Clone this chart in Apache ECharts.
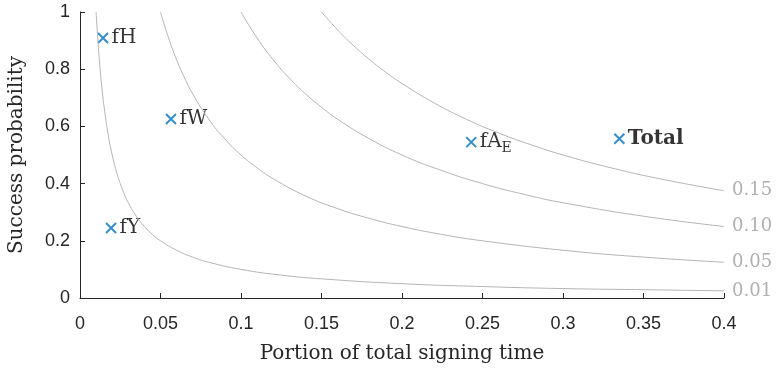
<!DOCTYPE html>
<html>
<head>
<meta charset="utf-8">
<style>
  html, body { margin: 0; padding: 0; background: #fff; }
  #chart { width: 777px; height: 368px; }
</style>
<script src="https://cdn.jsdelivr.net/npm/echarts@6/dist/echarts.min.js"></script>
</head>
<body>
<div id="chart"></div>
<script>
const xTicks = [0, 0.05, 0.1, 0.15, 0.2, 0.25, 0.3, 0.35, 0.4];
const yTicks = [0, 0.2, 0.4, 0.6, 0.8, 1];

// iso-lines
const levelNames = ["0.01", "0.05", "0.10", "0.15"];
const curveX = [
  [0.01, 0.011, 0.0125, 0.014, 0.015, 0.0175, 0.02, 0.0225, 0.025, 0.0275, 0.03, 0.035, 0.04, 0.045, 0.05, 0.06, 0.07, 0.08, 0.1, 0.125, 0.15, 0.2, 0.25, 0.3, 0.35, 0.4],
  [0.05, 0.055, 0.06, 0.065, 0.07, 0.08, 0.09, 0.1, 0.11, 0.12, 0.14, 0.16, 0.18, 0.2, 0.225, 0.25, 0.3, 0.35, 0.4],
  [0.1, 0.11, 0.12, 0.13, 0.14, 0.15, 0.16, 0.18, 0.2, 0.22, 0.25, 0.28, 0.3, 0.35, 0.4],
  [0.15, 0.16, 0.17, 0.18, 0.19, 0.2, 0.22, 0.24, 0.26, 0.28, 0.3, 0.33, 0.36, 0.4],
];
const curveY = [
  [1, 0.909, 0.8, 0.714, 0.667, 0.571, 0.5, 0.444, 0.4, 0.364, 0.333, 0.286, 0.25, 0.222, 0.2, 0.167, 0.143, 0.125, 0.1, 0.08, 0.067, 0.05, 0.04, 0.033, 0.029, 0.025],
  [1, 0.909, 0.833, 0.769, 0.714, 0.625, 0.556, 0.5, 0.455, 0.417, 0.357, 0.3125, 0.278, 0.25, 0.222, 0.2, 0.167, 0.143, 0.125],
  [1, 0.909, 0.833, 0.769, 0.714, 0.667, 0.625, 0.556, 0.5, 0.455, 0.4, 0.357, 0.333, 0.286, 0.25],
  [1, 0.9375, 0.882, 0.833, 0.789, 0.75, 0.682, 0.625, 0.577, 0.536, 0.5, 0.455, 0.417, 0.375],
];

const pointNames = ["fH", "fW", "fY", "fA_E", "Total"];
const pointX = [0.0143, 0.0565, 0.0193, 0.243, 0.335];
const pointY = [0.909, 0.626, 0.245, 0.545, 0.557];

const SERIF = "'DejaVu Serif', 'Liberation Serif', serif";
const SANS = "'Liberation Sans', Arial, sans-serif";
const CURVE_COLOR = "#b4b4b4";

const chart = echarts.init(document.getElementById("chart"));

const curveSeries = levelNames.map((name, i) => ({
  type: "line",
  name: name,
  data: curveX[i].map((x, j) => [x, curveY[i][j]]),
  showSymbol: false,
  smooth: true,
  silent: true,
  lineStyle: { color: CURVE_COLOR, width: 1 },
  endLabel: {
    show: true,
    formatter: name,
    color: "#b0b0b0",
    fontFamily: SERIF,
    fontSize: 18,
    distance: 8,
  },
}));

const labelText = (name) => {
  if (name === "fA_E") return "fA{sub|E}";
  if (name === "Total") return "{bold|Total}";
  return name;
};

const scatterSeries = {
  type: "scatter",
  symbol: "path://M0,0 L10,10 M10,0 L0,10",
  symbolSize: 10,
  itemStyle: { color: "none", borderColor: "#0072BD", borderWidth: 2 },
  data: pointNames.map((n, i) => ({ value: [pointX[i], pointY[i]], name: n })),
  label: {
    show: true,
    position: "right",
    distance: 1,
    formatter: (p) => labelText(p.name),
    color: "#000",
    fontFamily: SERIF,
    fontSize: 20,
    rich: {
      sub: { fontFamily: SERIF, fontSize: 14, color: "#000", verticalAlign: "bottom", padding: [12, 0, 0, 0] },
      bold: { fontFamily: SERIF, fontSize: 20, fontWeight: "bold", color: "#000" },
    },
  },
};

const option = {
  animation: false,
  grid: { left: 80, right: 53, top: 12, bottom: 70, outerBoundsMode: "none", containLabel: false },
  xAxis: {
    type: "value",
    min: xTicks[0],
    max: xTicks[xTicks.length - 1],
    interval: 0.05,
    name: "Portion of total signing time",
    nameLocation: "middle",
    nameGap: 46,
    nameTextStyle: { fontFamily: SERIF, fontSize: 20, color: "#262626" },
    axisLine: { lineStyle: { color: "#262626", width: 1 } },
    axisTick: { show: true, inside: true, length: 5, lineStyle: { color: "#262626" } },
    axisLabel: {
      fontFamily: SANS,
      fontSize: 18,
      color: "#262626",
      margin: 17,
      formatter: (v) => String(+v.toFixed(2)),
    },
    splitLine: { show: false },
  },
  yAxis: {
    type: "value",
    min: yTicks[0],
    max: yTicks[yTicks.length - 1],
    interval: 0.2,
    name: "Success probability",
    nameLocation: "middle",
    nameGap: 53,
    nameTextStyle: { fontFamily: SERIF, fontSize: 20, color: "#262626" },
    axisLine: { show: true, lineStyle: { color: "#262626", width: 1 } },
    axisTick: { show: true, inside: true, length: 5, lineStyle: { color: "#262626" } },
    axisLabel: {
      fontFamily: SANS,
      fontSize: 18,
      color: "#262626",
      margin: 10,
      formatter: (v) => String(+v.toFixed(1)),
    },
    splitLine: { show: false },
  },
  series: [...curveSeries, scatterSeries],
};

chart.setOption(option);
</script>
</body>
</html>
